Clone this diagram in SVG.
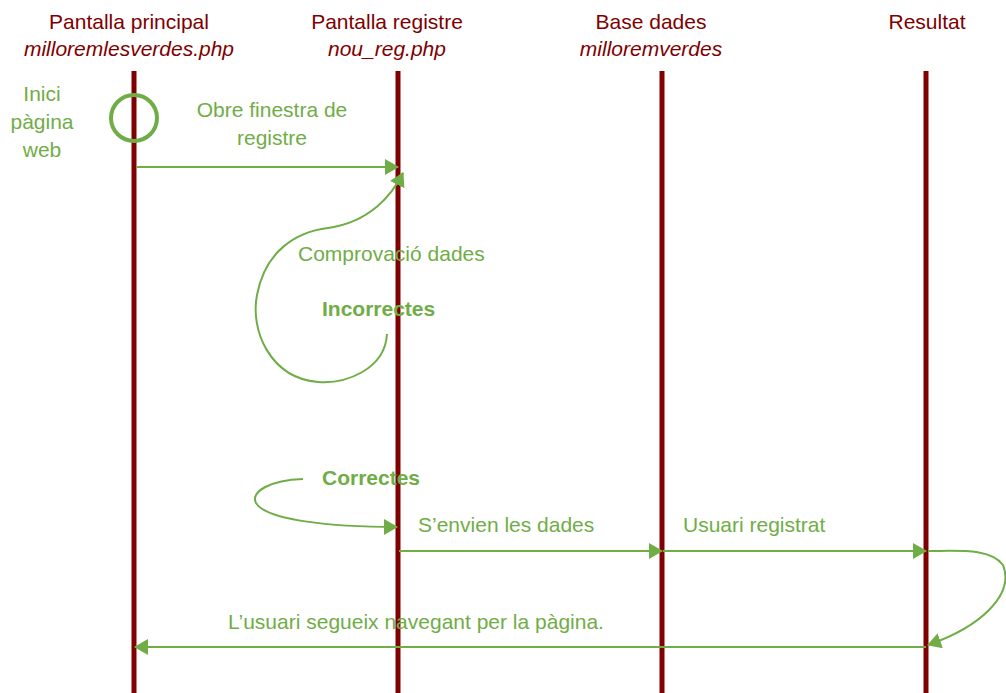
<svg xmlns="http://www.w3.org/2000/svg" width="1006" height="693" viewBox="0 0 1006 693">
<defs>
<style>
.hdr{font-family:"Liberation Sans",Arial,sans-serif;font-size:21px;fill:#7f0000;text-anchor:middle}
.it{font-style:italic}
.lbl{font-family:"Liberation Sans",Arial,sans-serif;font-size:21px;fill:#70ad47}
.b{font-weight:bold}
.life{stroke:#800000;stroke-width:5}
.con{fill:none;stroke:#70ad47;stroke-width:2}
</style>
<marker id="ah" viewBox="0 0 14 16" refX="13" refY="8" markerWidth="14" markerHeight="16" markerUnits="userSpaceOnUse" orient="auto">
<path d="M0,0 L14,8 L0,16 z" fill="#70ad47"/>
</marker>
</defs>
<rect width="1006" height="693" fill="#fff"/>
<g id="lane-principal">
<line class="life" x1="134" y1="71" x2="134" y2="693"/>
<text class="hdr" x="129" y="29">Pantalla principal</text>
<text class="hdr it" x="129" y="56">milloremlesverdes.php</text>
</g>
<g id="lane-registre">
<line class="life" x1="398" y1="71" x2="398" y2="693"/>
<text class="hdr" x="387" y="29">Pantalla registre</text>
<text class="hdr it" x="387" y="56">nou_reg.php</text>
</g>
<g id="lane-base">
<line class="life" x1="662" y1="71" x2="662" y2="693"/>
<text class="hdr" x="651" y="29">Base dades</text>
<text class="hdr it" x="651" y="56">milloremverdes</text>
</g>
<g id="lane-resultat">
<line class="life" x1="926" y1="71" x2="926" y2="693"/>
<text class="hdr" x="927" y="29">Resultat</text>
</g>
<g id="start">
<circle cx="134" cy="118" r="23" fill="none" stroke="#70ad47" stroke-width="4"/>
<text class="lbl" x="42" y="101" text-anchor="middle">Inici</text>
<text class="lbl" x="42" y="129" text-anchor="middle">pàgina</text>
<text class="lbl" x="42" y="157" text-anchor="middle">web</text>
</g>
<g id="labels">
<text class="lbl" x="272" y="117" text-anchor="middle">Obre finestra de</text>
<text class="lbl" x="272" y="145" text-anchor="middle">registre</text>
<text class="lbl" x="298" y="261">Comprovació dades</text>
<text class="lbl b" x="322" y="316">Incorrectes</text>
<text class="lbl b" x="322" y="485">Correctes</text>
<text class="lbl" x="418" y="532">S’envien les dades</text>
<text class="lbl" x="683" y="532">Usuari registrat</text>
<text class="lbl" x="228" y="629">L’usuari segueix navegant per la pàgina.</text>
</g>
<g id="connectors">
<line class="con" x1="136" y1="167" x2="398" y2="167" marker-end="url(#ah)"/>
<path class="con" d="M387,334 C385,370 345,384 318,382 C270,378 250,330 257,295 C265,252 295,232 328,228 C370,222 392,195 403,173" marker-end="url(#ah)"/>
<path class="con" d="M303,479 C270,480 250,492 256,503 C266,520 330,527 397,527" marker-end="url(#ah)"/>
<line class="con" x1="399" y1="551" x2="662" y2="551" marker-end="url(#ah)"/>
<line class="con" x1="663" y1="551" x2="926" y2="551" marker-end="url(#ah)"/>
<path class="con" d="M928,551 C960,551 990,548 1003,565 C1015,595 980,627 928,645" marker-end="url(#ah)"/>
<line class="con" x1="926" y1="647" x2="135" y2="647" marker-end="url(#ah)"/>
</g>
</svg>
